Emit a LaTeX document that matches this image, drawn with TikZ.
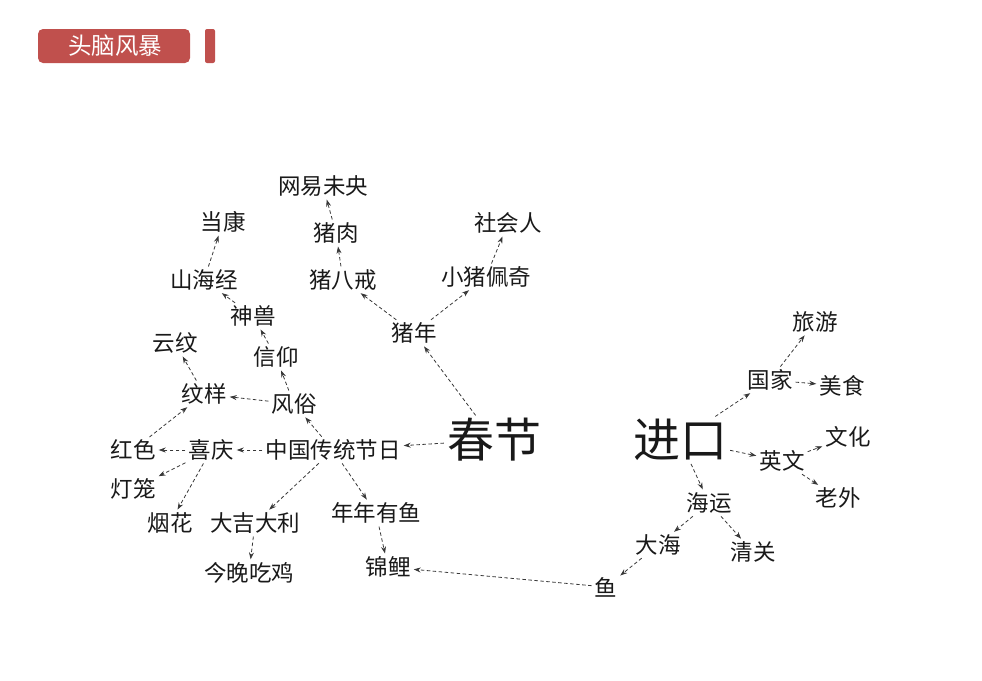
\documentclass[tikz,border=0pt]{standalone}
\usepackage{fontspec}
\newfontfamily\cjk{Noto Sans CJK SC}
\usetikzlibrary{arrows.meta}
\definecolor{headred}{HTML}{C0504D}

\begin{document}
\begin{tikzpicture}[
  x=1pt, y=-1pt,
  every node/.style = {font=\cjk\fontsize{22.5}{24}\selectfont, inner sep=2pt, text=black!90},
  big/.style = {font=\cjk\fontsize{47}{48}\selectfont},
  link/.style = {draw=black!78, line width=0.8pt, dash pattern=on 3.5pt off 2.5pt,
    -{Stealth[length=7pt,width=5pt]}, shorten <=1pt, shorten >=1pt}
    ]
  \useasboundingbox (0,0) rectangle (982,680);
  % title bar
  \fill[headred, rounded corners=5pt] (38,29) rectangle (190,63);
  \fill[headred, rounded corners=2pt] (205,29) rectangle (215,63);
  \node[text=white, font=\cjk\fontsize{23.5}{24}\selectfont] (title) at (115,46) {头脑风暴};

  % left tree
  \node[big] (cj) at (494,440) {春节};
  \node (ctjr) at (333,450) {中国传统节日};
  \node (zn) at (414,333) {猪年};
  \node (zbj) at (343,280) {猪八戒};
  \node (xzpq) at (486,277) {小猪佩奇};
  \node (shr) at (508,223) {社会人};
  \node (zr) at (336,233) {猪肉};
  \node (wywy) at (323,186) {网易未央};
  \node (fs) at (294,404) {风俗};
  \node (wy) at (204,394) {纹样};
  \node (yw) at (175,343) {云纹};
  \node (xy) at (276,357) {信仰};
  \node (ss) at (253,316) {神兽};
  \node (shj) at (204,280) {山海经};
  \node (dk) at (223,222) {当康};
  \node (xq) at (211,450) {喜庆};
  \node (hs) at (133,450) {红色};
  \node (dl) at (133,489) {灯笼};
  \node (yh) at (170,523) {烟花};
  \node (djdl) at (255,523) {大吉大利};
  \node (jwcj) at (249,573) {今晚吃鸡};
  \node (nnyy) at (376,513) {年年有鱼};
  \node (jl) at (388,567) {锦鲤};

  % right tree
  \node[big] (jk) at (680,440) {进口};
  \node (gj) at (770,380) {国家};
  \node (ly) at (815,322) {旅游};
  \node (ms) at (842,386) {美食};
  \node (yingw) at (782,461) {英文};
  \node (wh) at (848,437) {文化};
  \node (lw) at (838,498) {老外};
  \node (hy) at (709,503) {海运};
  \node (dh) at (658,545) {大海};
  \node (qg) at (753,552) {清关};
  \node (yu) at (606,587) {鱼};

  % links
  \foreach \a/\b in {cj/ctjr, cj/zn, zn/zbj, zn/xzpq, xzpq/shr, zbj/zr, zr/wywy,
      ctjr/fs, fs/wy, fs/xy, xy/ss, ss/shj, shj/dk, wy/yw,
      ctjr/xq, xq/hs, hs/wy, xq/dl, xq/yh, ctjr/djdl, djdl/jwcj,
      ctjr/nnyy, nnyy/jl, yu/jl,
      jk/gj, gj/ly, gj/ms, jk/yingw, yingw/wh, yingw/lw,
      jk/hy, hy/dh, hy/qg, dh/yu}
    \draw[link] (\a) -- (\b);
\end{tikzpicture}
\end{document}
